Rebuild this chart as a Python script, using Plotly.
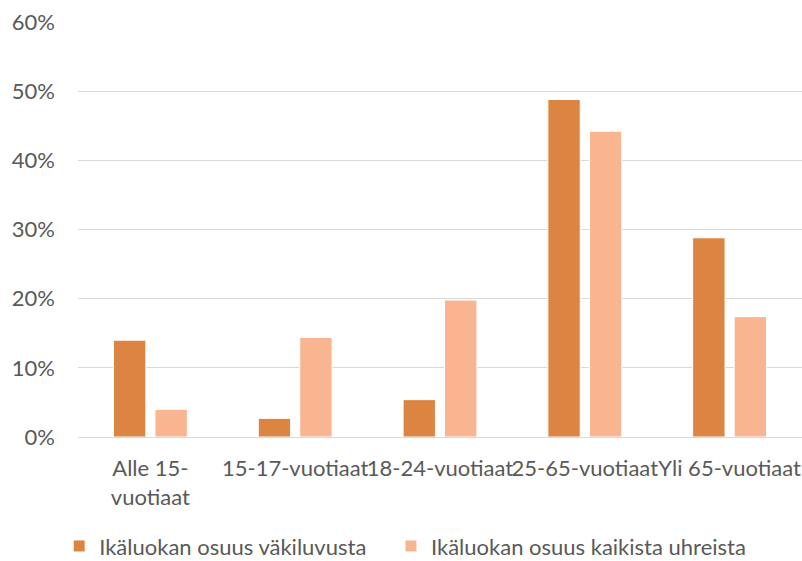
import plotly.graph_objects as go

categories = ["Alle 15-<br>vuotiaat", "15-17-vuotiaat", "18-24-vuotiaat", "25-65-vuotiaat", "Yli 65-vuotiaat"]
series_names = ["Ikäluokan osuus väkiluvusta", "Ikäluokan osuus kaikista uhreista"]
vakiluku = [14.0, 2.7, 5.4, 48.8, 28.8]
uhrit = [4.0, 14.4, 19.8, 44.2, 17.4]
tick_vals = [0, 10, 20, 30, 40, 50, 60]
tick_text = ["0%", "10%", "20%", "30%", "40%", "50%", "60%"]
colors = ["#DC8441", "#F8B590"]

FONT = "Lato"
FS = 22

fig = go.Figure()
for name, vals, col, lg in zip(series_names, [vakiluku, uhrit], colors, ["legend", "legend2"]):
    fig.add_trace(go.Bar(
        x=categories, y=vals, name=name, legend=lg,
        marker=dict(color=col, line=dict(color="white", width=1)),
    ))

legend_common = dict(orientation="h", xanchor="left", y=-0.263, yanchor="middle",
                     font=dict(family=FONT, size=FS, color="#595959"),
                     itemwidth=30, bgcolor="rgba(0,0,0,0)", maxheight=200)

fig.update_layout(
    width=802, height=561,
    paper_bgcolor="white", plot_bgcolor="white",
    margin=dict(l=78, r=0, t=22, b=124, autoexpand=False),
    barmode="group", bargap=0.427, bargroupgap=0.22,
    font=dict(family=FONT, size=FS, color="#595959"),
    showlegend=True,
    legend=dict(x=-0.026, **legend_common),
    legend2=dict(x=0.4323, **legend_common),
    xaxis=dict(showgrid=False, showline=False, ticks="", tickangle=0, automargin=False,
               ticklabelstandoff=16,
               tickfont=dict(family=FONT, size=FS, color="#595959")),
    yaxis=dict(range=[0, 60], tickvals=tick_vals, ticktext=tick_text, automargin=False,
               showgrid=True, gridcolor="#D9D9D9", gridwidth=1,
               zeroline=True, zerolinecolor="#D9D9D9", zerolinewidth=1,
               showline=False, ticks="", ticklabelstandoff=22,
               tickfont=dict(family=FONT, size=FS, color="#595959")),
)

fig.write_html("out.html", config={"displayModeBar": False},
               post_script="document.body.style.margin='0';")
